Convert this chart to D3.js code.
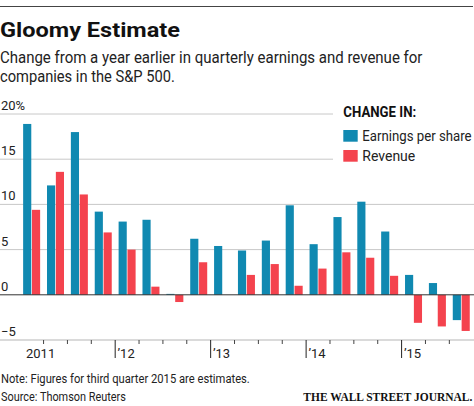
<!DOCTYPE html>
<html>
<head>
<meta charset="utf-8">
<script src="https://cdn.jsdelivr.net/npm/d3@7"></script>
<style>
  body { margin: 0; background: #fff; }
  svg { display: block; font-family: Roboto, "Noto Sans", sans-serif; }
</style>
</head>
<body>
<svg id="chart" width="474" height="406"></svg>
<script>
// quarters from Q1 2011 to Q3 2015 (Q3 2015 estimated)
const quarters = ["2011Q1","2011Q2","2011Q3","2011Q4","2012Q1","2012Q2","2012Q3","2012Q4",
    "2013Q1","2013Q2","2013Q3","2013Q4","2014Q1","2014Q2","2014Q3","2014Q4",
    "2015Q1","2015Q2","2015Q3"];
const epsChange = [18.9, 12.1, 18.0, 9.2, 8.1, 8.3, 0.1, 6.2, 5.4, 4.9, 6.0, 9.9, 5.6, 8.6, 10.3, 7.0, 2.2, 1.3, -2.8];
const revenueChange = [9.4, 13.6, 11.1, 6.9, 5.0, 0.9, -0.8, 3.6, 0, 2.2, 3.4, 1.0, 2.9, 4.7, 4.1, 2.1, -3.1, -3.5, -4.0];
const yearLabels = ["2011", "\u201912", "\u201913", "\u201914", "\u201915"];
const yearStarts = ["2011Q1", "2012Q1", "2013Q1", "2014Q1", "2015Q1"];
const yTicks = [20, 15, 10, 5, 0, -5];
const seriesNames = ["Earnings per share", "Revenue"];

const svg = d3.select("#chart");
const blue = "#1089b1", red = "#f4434e";

// squeeze a text horizontally to a given width (the WSJ font is narrow)
function fit(sel, x0, y0, width) {
    sel.each(function () {
        const natural = this.getComputedTextLength();
        const s = Math.min(1, width / natural);
        d3.select(this).attr("x", 0).attr("y", 0)
            .attr("transform", `translate(${x0},${y0}) scale(${s},1)`);
    });
}

// header
svg.append("line")
    .attr("x1", 0).attr("x2", 473).attr("y1", 6.5).attr("y2", 6.5)
    .attr("stroke", "#444").attr("stroke-width", 1);

svg.append("text")
    .attr("x", 0).attr("y", 36.5)
    .attr("font-size", "21px").attr("font-weight", "bold")
    .attr("textLength", 180).attr("lengthAdjust", "spacingAndGlyphs")
    .attr("fill", "#111")
    .text("Gloomy Estimate");

const subtitle = [
    { t: "Change from a year earlier in quarterly earnings and revenue for", w: 423, y: 63.3 },
    { t: "companies in the S&P 500.", w: 175, y: 81.7 }
];
svg.selectAll(".sub").data(subtitle).join("text")
    .attr("class", "sub")
    .attr("font-size", "17px").attr("fill", "#222")
    .text(d => d.t)
    .each(function (d) { fit(d3.select(this), 0, d.y, d.w); });

// scales
const x = d3.scaleBand()
    .domain(quarters)
    .range([19.7, 473.2])
    .paddingInner(0.288)
    .paddingOuter(0.144);

const xSub = d3.scaleBand()
    .domain(seriesNames)
    .range([0, x.bandwidth()])
    .paddingInner(0.08);

const y = d3.scaleLinear().domain([-5, 20]).range([340, 114]);

// gridlines (top two stop short of the legend)
svg.append("g").selectAll("line")
    .data(yTicks.filter(v => v > 0))
    .join("line")
    .attr("x1", 0)
    .attr("x2", d => d >= 15 ? 333 : 474)
    .attr("y1", d => y(d)).attr("y2", d => y(d))
    .attr("stroke", "#c8c8c8").attr("stroke-width", 1);

svg.append("g").selectAll("text")
    .data(yTicks)
    .join("text")
    .attr("x", 1)
    .attr("y", d => y(d) - 4)
    .attr("font-size", "13px").attr("fill", "#222")
    .text(d => d === 20 ? "20%" : (d < 0 ? "\u2212" + Math.abs(d) : d));

// bottom axis
svg.append("line")
    .attr("x1", 0).attr("x2", 474).attr("y1", y(-5)).attr("y2", y(-5))
    .attr("stroke", "#b5b5b5").attr("stroke-width", 1);

const boundary = q => x(q) - x.step() * x.paddingInner() / 2;

svg.append("g").selectAll("line")
    .data(quarters.slice(1))
    .join("line")
    .attr("x1", d => boundary(d)).attr("x2", d => boundary(d))
    .attr("y1", y(-5))
    .attr("y2", d => yearStarts.includes(d) ? 358 : 344)
    .attr("stroke", d => yearStarts.includes(d) ? "#222" : "#444")
    .attr("stroke-width", 1);

svg.append("g").selectAll("text")
    .data(yearLabels)
    .join("text")
    .attr("x", (d, i) => boundary(yearStarts[i]) + (i === 0 ? 6.3 : 2.3))
    .attr("y", 358.3)
    .attr("font-size", "13px").attr("fill", "#222")
    .text(d => d);

// bars
const rows = quarters.map((q, i) => ({ q, vals: [epsChange[i], revenueChange[i]] }));
const groups = svg.append("g").selectAll("g")
    .data(rows)
    .join("g")
    .attr("transform", d => `translate(${x(d.q)},0)`);

groups.selectAll("rect")
    .data(d => d.vals.map((v, k) => ({ key: seriesNames[k], v })))
    .join("rect")
    .attr("x", d => xSub(d.key))
    .attr("width", xSub.bandwidth())
    .attr("y", d => y(Math.max(0, d.v)))
    .attr("height", d => Math.abs(y(d.v) - y(0)))
    .attr("fill", d => d.key === seriesNames[0] ? blue : red);

// zero line
svg.append("line")
    .attr("x1", 0).attr("x2", 474).attr("y1", y(0)).attr("y2", y(0))
    .attr("stroke", "#333").attr("stroke-width", 1);

// legend
svg.append("text")
    .attr("font-size", "14px").attr("font-weight", "bold").attr("fill", "#111")
    .text("CHANGE IN:")
    .call(fit, 343.3, 117.3, 73);

const legend = svg.append("g").selectAll("g")
    .data(seriesNames)
    .join("g")
    .attr("transform", (d, i) => `translate(343.3,${130 + i * 20})`);
legend.append("rect")
    .attr("width", 14.4).attr("height", 11.7)
    .attr("fill", (d, i) => i === 0 ? blue : red);
legend.append("text")
    .attr("font-size", "14.5px").attr("fill", "#222")
    .text(d => d)
    .each(function (d, i) { fit(d3.select(this), 19, 10.7, i === 0 ? 109.4 : 53); });

// footer
svg.append("text")
    .attr("font-size", "13px").attr("fill", "#222")
    .text("Note: Figures for third quarter 2015 are estimates.")
    .call(fit, 1, 383.3, 249);
svg.append("text")
    .attr("font-size", "13px").attr("fill", "#222")
    .text("Source: Thomson Reuters")
    .call(fit, 1, 401, 125);
svg.append("text")
    .attr("text-anchor", "end")
    .attr("font-family", "'Liberation Serif', 'DejaVu Serif', serif")
    .attr("font-size", "13px").attr("font-weight", "bold").attr("fill", "#111")
    .text("THE WALL STREET JOURNAL.")
    .call(fit, 472.3, 401, 169);
</script>
</body>
</html>
